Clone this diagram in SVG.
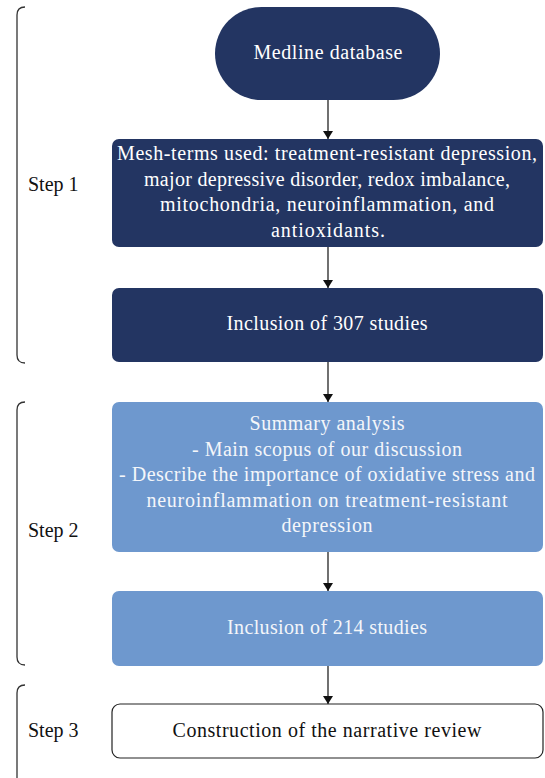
<svg xmlns="http://www.w3.org/2000/svg" width="545" height="778" viewBox="0 0 545 778">
<style>
text{font-family:"Liberation Serif","Times New Roman",serif;font-size:20px;text-anchor:middle}
.w{fill:#ffffff}
.lb{fill:#f4f6fa}
.k{fill:#111111}
.st{text-anchor:start;fill:#111111}
.navy{fill:#233562}
.blue{fill:#6e98ce}
.br{fill:none;stroke:#333333;stroke-width:1.3}
.cn{stroke:#111111;stroke-width:1.2;fill:none}
</style>
<defs>
<marker id="ah" markerWidth="8" markerHeight="10" refX="8" refY="5" orient="auto" markerUnits="userSpaceOnUse">
<path d="M0,0 L8,5 L0,10 Z" fill="#111111"/>
</marker>
</defs>
<g id="brackets">
<path class="br" d="M25,7 Q17,7 17,15 L17,355 Q17,363 25,363"/>
<path class="br" d="M25,402 Q17,402 17,410 L17,657 Q17,665 25,665"/>
<path class="br" d="M25,685 Q17,685 17,693 L17,778"/>
</g>
<g id="labels">
<text class="st" x="28" y="191">Step 1</text>
<text class="st" x="28" y="537">Step 2</text>
<text class="st" x="28" y="737">Step 3</text>
</g>
<g id="connectors">
<line class="cn" x1="328" y1="100" x2="328" y2="139" marker-end="url(#ah)"/>
<line class="cn" x1="328" y1="247" x2="328" y2="288" marker-end="url(#ah)"/>
<line class="cn" x1="328" y1="362" x2="328" y2="402" marker-end="url(#ah)"/>
<line class="cn" x1="328" y1="552" x2="328" y2="591" marker-end="url(#ah)"/>
<line class="cn" x1="328" y1="666" x2="328" y2="704" marker-end="url(#ah)"/>
</g>
<g id="medline">
<rect class="navy" x="215" y="7" width="225" height="93" rx="46.5"/>
<text class="w" x="328" y="59" textLength="149" lengthAdjust="spacing">Medline database</text>
</g>
<g id="meshterms">
<rect class="navy" x="112" y="139" width="431" height="108" rx="7"/>
<text class="w" x="327" y="160" textLength="420" lengthAdjust="spacing">Mesh-terms used: treatment-resistant depression,</text>
<text class="w" x="327" y="185.5" textLength="366" lengthAdjust="spacing">major depressive disorder, redox imbalance,</text>
<text class="w" x="327" y="211" textLength="334" lengthAdjust="spacing">mitochondria, neuroinflammation, and</text>
<text class="w" x="328" y="236.5" textLength="114" lengthAdjust="spacing">antioxidants.</text>
</g>
<g id="inclusion307">
<rect class="navy" x="112" y="288" width="431" height="74" rx="7"/>
<text class="w" x="327" y="330" textLength="201" lengthAdjust="spacing">Inclusion of 307 studies</text>
</g>
<g id="summary">
<rect class="blue" x="112" y="402" width="431" height="150" rx="7"/>
<text class="lb" x="327" y="430" textLength="155" lengthAdjust="spacing">Summary analysis</text>
<text class="lb" x="327" y="455.5" textLength="270" lengthAdjust="spacing">- Main scopus of our discussion</text>
<text class="lb" x="327" y="481" textLength="416" lengthAdjust="spacing">- Describe the importance of oxidative stress and</text>
<text class="lb" x="327" y="506.5" textLength="361" lengthAdjust="spacing">neuroinflammation on treatment-resistant</text>
<text class="lb" x="327" y="532" textLength="91" lengthAdjust="spacing">depression</text>
</g>
<g id="inclusion214">
<rect class="blue" x="112" y="591" width="431" height="75" rx="7"/>
<text class="lb" x="327" y="634" textLength="200" lengthAdjust="spacing">Inclusion of 214 studies</text>
</g>
<g id="construction">
<rect x="112" y="704" width="431" height="54" rx="8" fill="#ffffff" stroke="#222222" stroke-width="1.2"/>
<text class="k" x="327" y="737" textLength="309" lengthAdjust="spacing">Construction of the narrative review</text>
</g>
</svg>
